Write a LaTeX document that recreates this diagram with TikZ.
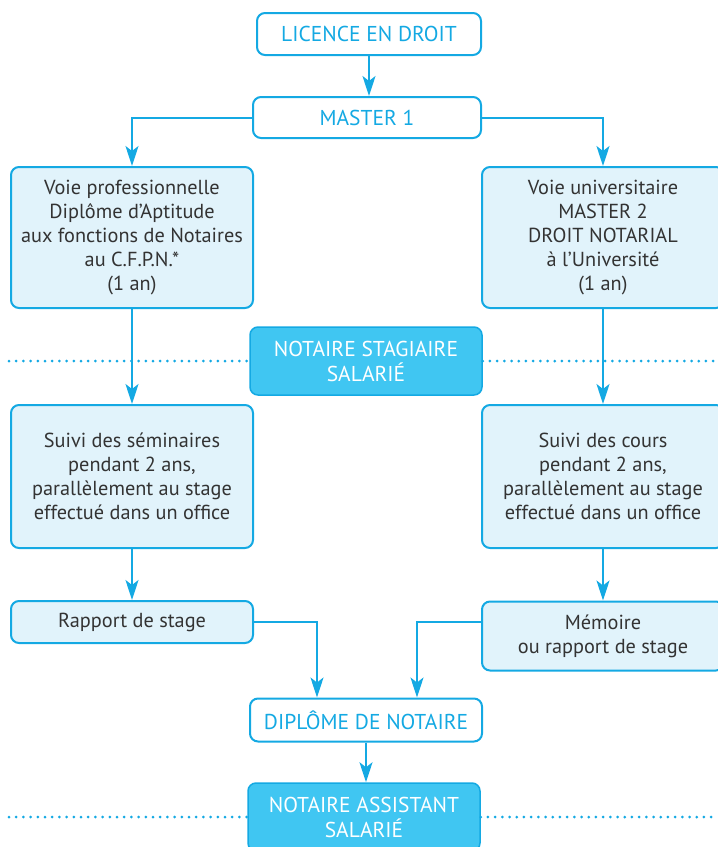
\documentclass[tikz,border=0pt]{standalone}
\usepackage{fontspec}
\setmainfont{PT Sans}
\usetikzlibrary{arrows.meta}
\definecolor{cyanline}{HTML}{14A9E3}
\definecolor{lightfill}{HTML}{E1F3FB}
\definecolor{darkfill}{HTML}{40C6F2}
\definecolor{txt}{HTML}{333333}
\begin{document}
\begin{tikzpicture}[x=1pt,y=-1pt,
  every node/.style={font=\fontsize{20.3}{24}\selectfont, align=center, inner sep=0pt},
  headfont/.style={font=\fontsize{21.5}{25}\selectfont},
  whitebox/.style={draw=cyanline, line width=2pt, rounded corners=8pt, fill=white, text=cyanline, headfont},
  lightbox/.style={draw=cyanline, line width=2pt, rounded corners=8pt, fill=lightfill, text=txt},
  darkbox/.style={draw=cyanline, line width=1.5pt, rounded corners=8pt, fill=darkfill, text=white, headfont},
  arr/.style={draw=cyanline, line width=2pt, -{Stealth[length=20pt,width=13pt,inset=5pt]}},
  dotline/.style={draw=cyanline, line width=3pt, line cap=round, dash pattern=on 0pt off 7.2pt}]
\useasboundingbox (0,0) rectangle (718,847);
\coordinate (dl1) at (9,361);
\coordinate (dr1) at (718,361);
\coordinate (dl2) at (9,817);
\coordinate (dr2) at (718,817);
\node[whitebox, minimum width=224pt, minimum height=42pt] (lic) at (369,34) {LICENCE EN DROIT};
\node[whitebox, minimum width=228pt, minimum height=41pt] (m1) at (367,117.5) {MASTER 1};
\node[lightbox, minimum width=242pt, minimum height=141pt] (l1) at (132,237.5) {Voie professionnelle\\Diplôme d’Aptitude\\aux fonctions de Notaires\\au C.F.P.N.*\\(1 an)};
\node[lightbox, minimum width=242pt, minimum height=141pt] (r1) at (603,237.5) {Voie universitaire\\MASTER 2\\DROIT NOTARIAL\\à l’Université\\(1 an)};
\node[darkbox, minimum width=232pt, minimum height=68pt] (stag) at (366,361) {NOTAIRE STAGIAIRE\\SALARIÉ};
\node[lightbox, minimum width=242pt, minimum height=143pt] (l2) at (132,476.5) {Suivi des séminaires\\pendant 2 ans,\\parallèlement au stage\\effectué dans un office};
\node[lightbox, minimum width=242pt, minimum height=143pt] (r2) at (603,476.5) {Suivi des cours\\pendant 2 ans,\\parallèlement au stage\\effectué dans un office};
\node[lightbox, minimum width=242pt, minimum height=42pt] (rap) at (132,622) {Rapport de stage};
\node[lightbox, minimum width=242pt, minimum height=69pt] (mem) at (603,636) {Mémoire\\ou rapport de stage};
\node[whitebox, minimum width=232pt, minimum height=43pt] (dip) at (366,720) {DIPLÔME DE NOTAIRE};
\node[darkbox, minimum width=232pt, minimum height=68pt] (asst) at (364,817) {NOTAIRE ASSISTANT\\SALARIÉ};
\coordinate (cL) at (317,700);
\coordinate (cR) at (417,700);
\draw[dotline] (dl1) -- (stag.west);
\draw[dotline] (stag.east) -- (dr1);
\draw[dotline] (dl2) -- (asst.west);
\draw[dotline] (asst.east) -- (dr2);
\draw[arr] (lic.south) -- (lic.south |- m1.north);
\draw[arr] (m1.west) -| (l1.north);
\draw[arr] (m1.east) -| (r1.north);
\draw[arr] (l1.south) -- (l2.north);
\draw[arr] (r1.south) -- (r2.north);
\draw[arr] (l2.south) -- (rap.north);
\draw[arr] (r2.south) -- (mem.north);
\draw[arr] (rap.east) -| (cL |- dip.north);
\draw[arr] (rap.east -| mem.west) -| (cR |- dip.north);
\draw[arr] (dip.south) -- (dip.south |- asst.north);
\end{tikzpicture}
\end{document}
